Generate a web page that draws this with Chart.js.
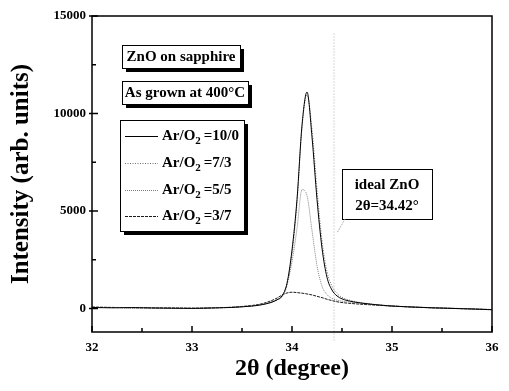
<!DOCTYPE html>
<html>
<head>
<meta charset="utf-8">
<script src="https://cdn.jsdelivr.net/npm/chart.js@4/dist/chart.umd.min.js"></script>
<style>
  html, body { margin: 0; padding: 0; background: #fff; }
  #wrap { width: 509px; height: 391px; }
</style>
</head>
<body>
<div id="wrap"><canvas id="myChart" width="509" height="391"></canvas></div>
<script>
/**
 *  Data
 */
var twoTheta = [32.0, 32.2, 32.4, 32.6, 32.8, 33.0, 33.2, 33.4, 33.5, 33.6, 33.7, 33.8, 33.85, 33.9, 33.95,
    34.0, 34.05, 34.1, 34.15, 34.2, 34.25, 34.3, 34.35, 34.4, 34.45, 34.5, 34.6, 34.7, 34.8, 34.9,
    35.0, 35.2, 35.4, 35.6, 35.8, 36.0];

var ratio_10_0 = [60, 40, 50, 30, 20, 10, 30, 60, 90, 130, 200, 330, 450, 650, 1300,
    3000, 5600, 9400, 11100, 8800, 5600, 3100, 1600, 950, 650, 500, 360, 280, 220, 170,
    130, 80, 40, 10, -20, -60];
var ratio_7_3 = [70, 50, 40, 40, 20, 20, 40, 70, 100, 140, 210, 340, 440, 600, 1200,
    2800, 5400, 9300, 10950, 9200, 6100, 3500, 1900, 1150, 780, 580, 400, 300, 230, 180,
    140, 90, 50, 20, -10, -50];
var ratio_5_5 = [50, 60, 30, 40, 30, 10, 40, 60, 100, 140, 220, 350, 460, 620, 1250,
    2400, 4100, 6100, 5800, 4000, 2200, 1150, 720, 520, 430, 380, 320, 260, 210, 170,
    130, 80, 40, 10, -20, -50];
var ratio_3_7 = [80, 60, 50, 40, 30, 20, 40, 70, 110, 160, 250, 420, 540, 690, 800,
    840, 820, 790, 750, 700, 630, 560, 480, 410, 350, 310, 260, 220, 190, 160,
    130, 80, 40, 10, -20, -50];

var seriesNames = ["=10/0", "=7/3", "=5/5", "=3/7"];
var idealAngle = 34.42;
var idealSpan = [14100, -1700];

var xTicks = [32, 33, 34, 35, 36];
var yTicks = [0, 5000, 10000, 15000];
var xMinor = [32.5, 33.5, 34.5, 35.5];
var yMinor = [2500, 7500, 12500];

var serif = "'Liberation Serif', 'DejaVu Serif', serif";

var toPoints = function (ys) {
    return ys.map(function (y, i) {
        return { x: twoTheta[i], y: y };
    });
};

var lineStyle = [
    { color: "#000000", dash: [] },
    { color: "#6f6f6f", dash: [1, 1.5] },
    { color: "#808080", dash: [1, 1] },
    { color: "#1a1a1a", dash: [3, 1] }
];

var series = [ratio_10_0, ratio_7_3, ratio_5_5, ratio_3_7];
var datasets = series.map(function (ys, i) {
    return {
        label: "Ar/O2 " + seriesNames[i],
        data: toPoints(ys),
        borderColor: lineStyle[i].color,
        borderDash: lineStyle[i].dash,
        borderWidth: 1,
        pointRadius: 0,
        cubicInterpolationMode: "monotone",
        fill: false
    };
});

// the ideal ZnO reference line
datasets.push({
    label: "ideal",
    data: [{ x: idealAngle, y: idealSpan[0] }, { x: idealAngle, y: idealSpan[1] }],
    borderColor: "#b0b0b0",
    borderDash: [1, 2],
    borderWidth: 1,
    pointRadius: 0,
    clip: false
});

/**
 *  Frame, inward ticks, boxes
 */
var framePlugin = {
    id: "frame",
    afterDraw: function (chart) {
        var ctx = chart.ctx;
        var a = chart.chartArea;
        var xs = chart.scales.x;
        var ys = chart.scales.y;

        ctx.save();
        ctx.strokeStyle = "#000";
        ctx.lineWidth = 1.5;
        ctx.strokeRect(a.left, a.top, a.right - a.left, a.bottom - a.top);

        ctx.beginPath();
        xTicks.forEach(function (v) {
            var px = xs.getPixelForValue(v);
            ctx.moveTo(px, a.bottom); ctx.lineTo(px, a.bottom - 6);
        });
        xMinor.forEach(function (v) {
            var px = xs.getPixelForValue(v);
            ctx.moveTo(px, a.bottom); ctx.lineTo(px, a.bottom - 4);
        });
        yTicks.forEach(function (v) {
            var py = ys.getPixelForValue(v);
            ctx.moveTo(a.left - 3, py); ctx.lineTo(a.left + 6, py);
        });
        yMinor.forEach(function (v) {
            var py = ys.getPixelForValue(v);
            ctx.moveTo(a.left, py); ctx.lineTo(a.left + 4, py);
        });
        ctx.stroke();

        var box = function (x, y, w, h, shadow) {
            if (shadow) {
                ctx.fillStyle = "#000";
                ctx.fillRect(x + 4, y + 4, w, h);
            }
            ctx.fillStyle = "#fff";
            ctx.fillRect(x, y, w, h);
            ctx.strokeStyle = "#000";
            ctx.lineWidth = 1;
            ctx.strokeRect(x + 0.5, y + 0.5, w, h);
        };

        ctx.textBaseline = "middle";
        ctx.textAlign = "center";
        ctx.font = "bold 15px " + serif;

        box(122, 45, 118, 23, true);
        ctx.fillStyle = "#000";
        ctx.fillText("ZnO on sapphire", 181, 57);

        box(122, 81, 126, 23, true);
        ctx.fillStyle = "#000";
        ctx.fillText("As grown at 400\u00B0C", 185, 93);

        // legend
        box(120, 120, 124, 111, true);
        var rows = [136, 163, 190, 216];
        chart.data.datasets.slice(0, 4).forEach(function (ds, i) {
            var y = rows[i];
            ctx.strokeStyle = ds.borderColor;
            ctx.setLineDash(ds.borderDash);
            ctx.lineWidth = 1;
            ctx.beginPath();
            ctx.moveTo(125, y + 0.5); ctx.lineTo(158, y + 0.5);
            ctx.stroke();
            ctx.setLineDash([]);

            ctx.fillStyle = "#000";
            ctx.textAlign = "left";
            ctx.font = "bold 15px " + serif;
            var x = 162;
            ctx.fillText("Ar/O", x, y);
            x += ctx.measureText("Ar/O").width;
            ctx.font = "bold 11px " + serif;
            ctx.fillText("2", x, y + 5);
            x += ctx.measureText("2").width + 3;
            ctx.font = "bold 15px " + serif;
            ctx.fillText(seriesNames[i], x, y);
        });

        // ideal ZnO note
        box(342, 169, 90, 50, false);
        ctx.fillStyle = "#000";
        ctx.textAlign = "center";
        ctx.font = "bold 15px " + serif;
        ctx.fillText("ideal ZnO", 387, 185);
        ctx.fillText("2\u03B8=34.42\u00B0", 387, 206);

        ctx.strokeStyle = "#999";
        ctx.setLineDash([1, 1]);
        ctx.beginPath();
        ctx.moveTo(345, 219); ctx.lineTo(337, 233);
        ctx.stroke();
        ctx.restore();
    }
};

new Chart(document.getElementById("myChart"), {
    type: "line",
    data: { datasets: datasets },
    options: {
        responsive: false,
        animation: false,
        events: [],
        layout: { padding: { left: 0, top: 16, right: 17, bottom: 0 } },
        plugins: { legend: { display: false }, tooltip: { enabled: false } },
        scales: {
            x: {
                type: "linear",
                min: 32,
                max: 36,
                afterBuildTicks: function (s) {
                    s.ticks = xTicks.map(function (v) { return { value: v }; });
                },
                afterFit: function (s) { s.height = 59; },
                grid: { display: false, drawTicks: false },
                border: { display: false },
                ticks: {
                    padding: 8,
                    color: "#000",
                    font: { family: serif, size: 13, weight: "bold" }
                },
                title: {
                    display: true,
                    text: "2\u03B8 (degree)",
                    color: "#000",
                    padding: { top: 0, bottom: 8 },
                    font: { family: serif, size: 24, weight: "bold" }
                }
            },
            y: {
                min: -1200,
                max: 15000,
                afterBuildTicks: function (s) {
                    s.ticks = yTicks.map(function (v) { return { value: v }; });
                },
                afterFit: function (s) { s.width = 92; },
                grid: { display: false, drawTicks: false },
                border: { display: false },
                ticks: {
                    padding: 6,
                    color: "#000",
                    font: { family: serif, size: 13, weight: "bold" },
                    callback: function (v) { return String(v); }
                },
                title: {
                    display: true,
                    text: "Intensity (arb. units)",
                    color: "#000",
                    padding: { top: 7, bottom: 0 },
                    font: { family: serif, size: 25, weight: "bold" }
                }
            }
        }
    },
    plugins: [framePlugin]
});
</script>
</body>
</html>
